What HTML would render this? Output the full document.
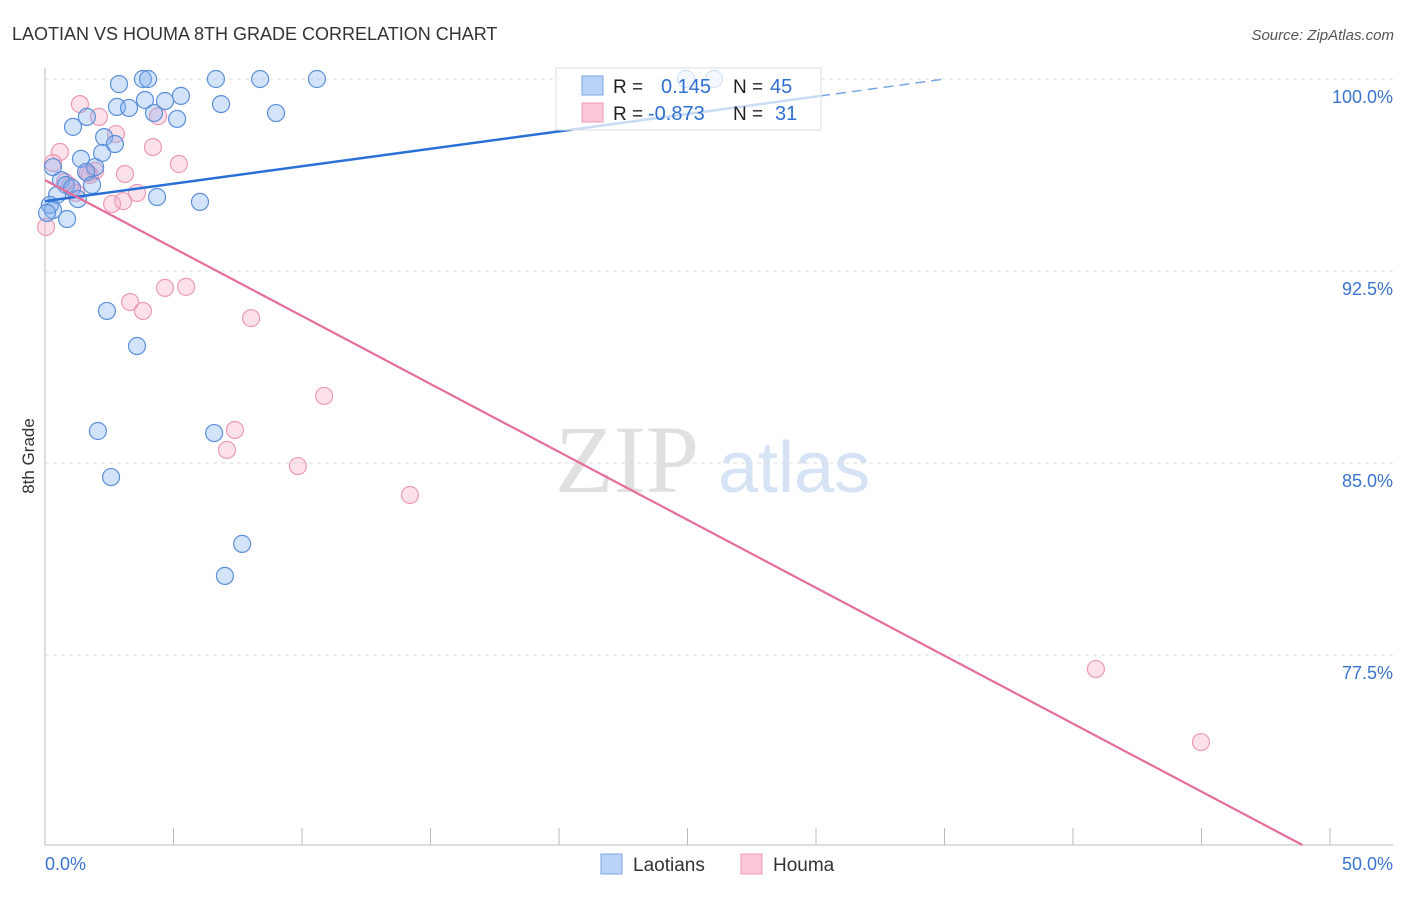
<!DOCTYPE html>
<html><head><meta charset="utf-8"><style>
body{margin:0;background:#fff;font-family:"Liberation Sans",sans-serif}
</style></head><body>
<svg width="1406" height="892" xmlns="http://www.w3.org/2000/svg" id="svg">
<text x="12" y="40" font-size="18" fill="#333">LAOTIAN VS HOUMA 8TH GRADE CORRELATION CHART</text>
<text x="1394" y="40" font-size="15" fill="#555" font-style="italic" text-anchor="end">Source: ZipAtlas.com</text>
<text x="555" y="492" font-size="96" fill="#e0e0e0" font-family="Liberation Serif,serif">ZIP</text>
<text x="718" y="492" font-size="72" fill="#d5e3f5">atlas</text>
<text x="34" y="456" font-size="17" fill="#333" transform="rotate(-90 34 456)" text-anchor="middle">8th Grade</text>
<g id="grid"></g><g id="pts"></g><g id="trend"></g>
<g>
<rect x="556" y="68" width="265" height="62" fill="#fff" fill-opacity="0.75" stroke="#ddd"/>
<rect x="582" y="76" width="21" height="19" fill="#b8d3f7" stroke="#7aa6e3"/>
<rect x="582" y="103" width="21" height="19" fill="#fac8d8" stroke="#ec9ab6"/>
<text x="613" y="93" font-size="19" fill="#222">R = </text><text x="661" y="93" font-size="20" fill="#2f6fd0">0.145</text>
<text x="733" y="93" font-size="19" fill="#222">N = </text><text x="770" y="93" font-size="20" fill="#2f6fd0">45</text>
<text x="613" y="120" font-size="19" fill="#222">R = </text><text x="648" y="120" font-size="20" fill="#2f6fd0">-0.873</text>
<text x="733" y="120" font-size="19" fill="#222">N = </text><text x="775" y="120" font-size="20" fill="#2f6fd0">31</text>
</g>
<g>
<rect x="601" y="854" width="21" height="20" fill="#b8d3f7" stroke="#7aa6e3"/>
<text x="633" y="871" font-size="19" fill="#333">Laotians</text>
<rect x="741" y="854" width="21" height="20" fill="#fac8d8" stroke="#ec9ab6"/>
<text x="773" y="871" font-size="19" fill="#333">Houma</text>
</g>
</svg>
<script>
const yTicks=[100,92.5,85,77.5];
const yTickLabels=["100.0%","92.5%","85.0%","77.5%"];
const blueX=[2.88,3.81,4.01,6.65,8.37,10.58,24.94,26.03,2.80,3.27,3.89,5.29,4.67,4.24,5.14,6.85,8.99,1.09,2.30,2.72,2.22,1.40,1.95,1.60,0.62,0.82,1.83,1.05,0.47,1.28,0.19,0.31,0.86,4.36,6.03,2.41,3.58,2.06,6.58,2.57,7.67,7.00,0.31,1.63,0.08];
const blueY=[99.80,100,100,100,100,100,100,100,98.91,98.87,99.18,99.34,99.14,98.67,98.44,99.02,98.67,98.13,97.73,97.46,97.11,96.88,96.56,96.37,96.05,95.86,95.86,95.74,95.47,95.31,95.08,94.88,94.53,95.39,95.20,90.94,89.57,86.25,86.17,84.45,81.84,80.59,96.56,98.52,94.77];
const pinkX=[1.36,2.10,2.76,4.20,5.21,0.58,0.31,1.67,3.11,1.95,0.97,1.21,2.61,3.04,3.58,4.40,3.31,3.81,4.67,5.49,8.02,10.86,7.39,7.08,9.84,14.20,40.89,44.98,0.04,0.78,1.75];
const pinkY=[99.02,98.52,97.85,97.34,96.68,97.15,96.72,96.33,96.29,96.41,95.82,95.55,95.12,95.23,95.55,98.55,91.29,90.94,91.84,91.88,90.66,87.62,86.29,85.51,84.88,83.75,76.95,74.10,94.22,95.98,96.25];
const blueTrend=[95.23,0.1362];
const pinkTrend=[96.05,-0.5308];
const NS="http://www.w3.org/2000/svg";
const X0=45,XS=25.7,Y0=79,YS=25.6,BOT=845;
const sx=v=>X0+v*XS, sy=v=>Y0+(100-v)*YS;
function mk(t,a,p){const e=document.createElementNS(NS,t);for(const k in a)e.setAttribute(k,a[k]);p.appendChild(e);return e;}
const grid=document.getElementById('grid');
yTicks.forEach((t,i)=>{
 const l=mk('line',{x1:45,x2:1393,y1:sy(t),y2:sy(t),stroke:'#ddd','stroke-dasharray':'4,4'},grid);
 
 
 const tx=mk('text',{x:1393,y:sy(t)+24,'font-size':18,fill:'#3a74d0','text-anchor':'end'},grid);
 tx.textContent=yTickLabels[i];
 
 
});
mk('line',{x1:45,x2:45,y1:68,y2:BOT,stroke:'#bbb'},grid);
mk('line',{x1:45,x2:1393,y1:BOT,y2:BOT,stroke:'#bbb'},grid);
for(let i=0;i<=10;i++){mk('line',{x1:sx(i*5),x2:sx(i*5),y1:828,y2:BOT,stroke:'#bbb'},grid);}
let t1=mk('text',{x:45,y:870,'font-size':18,fill:'#3a74d0'},grid);t1.textContent='0.0%';


let t2=mk('text',{x:1393,y:870,'font-size':18,fill:'#3a74d0','text-anchor':'end'},grid);t2.textContent='50.0%';


const pts=document.getElementById('pts');
pinkX.forEach((x,i)=>{const c=mk('circle',{cx:sx(x),cy:sy(pinkY[i]),r:8.5,fill:'rgba(246,170,198,0.35)',stroke:'#ec9ab6','stroke-width':1.2},pts);
 
 });
blueX.forEach((x,i)=>{const c=mk('circle',{cx:sx(x),cy:sy(blueY[i]),r:8.5,fill:'rgba(130,175,240,0.35)',stroke:'#5b8fd8','stroke-width':1.2},pts);
 
 });
const tr=document.getElementById('trend');
const bf=x=>blueTrend[0]+blueTrend[1]*x;
let b1=mk('line',{x1:sx(0),y1:sy(bf(0)),x2:sx(30.16),y2:sy(bf(30.16)),stroke:'#2a6fd6','stroke-width':2.5},tr);


let xe=(100-blueTrend[0])/blueTrend[1];
mk('line',{x1:sx(30.16),y1:sy(bf(30.16)),x2:sx(xe),y2:sy(100),stroke:'#7aa6e3','stroke-width':1.5,'stroke-dasharray':'10,6'},tr);
const pf=x=>pinkTrend[0]+pinkTrend[1]*x;
let xb=(pinkTrend[0]-(100-(BOT-Y0)/YS))/(-pinkTrend[1]);
let p1=mk('line',{x1:sx(0),y1:sy(pf(0)),x2:sx(xb),y2:sy(pf(xb)),stroke:'#e46e9a','stroke-width':2.2},tr);


</script>
</body></html>
